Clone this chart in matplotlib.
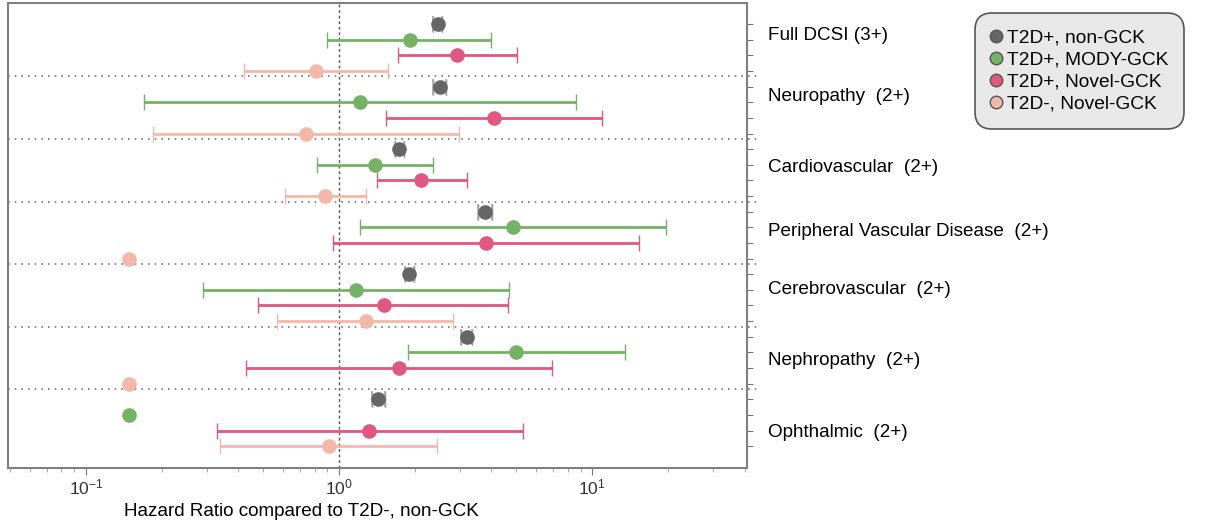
import numpy as np
import matplotlib.pyplot as plt
from matplotlib.lines import Line2D

plt.rcParams['font.family'] = ['Liberation Sans', 'DejaVu Sans']

# outcome groups (top to bottom)
outcomes = ['Full DCSI (3+)', 'Neuropathy  (2+)', 'Cardiovascular  (2+)',
            'Peripheral Vascular Disease  (2+)', 'Cerebrovascular  (2+)',
            'Nephropathy  (2+)', 'Ophthalmic  (2+)']

groups = ['T2D+, non-GCK', 'T2D+, MODY-GCK', 'T2D+, Novel-GCK', 'T2D-, Novel-GCK']
colors = ['#666666', '#74b266', '#e0577f', '#f4b8aa']
cap_colors = ['#ababab', '#74b266', '#e0577f', '#f4b8aa']

# hazard ratio, lower CI, upper CI per group (np.nan = no CI shown)
hr_nongck = [2.46, 2.51, 1.73, 3.78, 1.89, 3.21, 1.43]
lo_nongck = [2.35, 2.35, 1.66, 3.55, 1.82, 3.03, 1.35]
hi_nongck = [2.55, 2.65, 1.81, 4.03, 1.98, 3.36, 1.52]

hr_mody = [1.91, 1.21, 1.39, 4.88, 1.17, 5.0, 0.148]
lo_mody = [0.90, 0.17, 0.82, 1.21, 0.29, 1.87, np.nan]
hi_mody = [3.99, 8.64, 2.35, 19.6, 4.70, 13.5, np.nan]

hr_novel = [2.93, 4.10, 2.11, 3.81, 1.51, 1.73, 1.31]
lo_novel = [1.71, 1.53, 1.41, 0.95, 0.48, 0.43, 0.33]
hi_novel = [5.05, 10.9, 3.20, 15.3, 4.66, 6.95, 5.33]

hr_t2dneg = [0.81, 0.74, 0.88, 0.148, 1.28, 0.148, 0.91]
lo_t2dneg = [0.42, 0.184, 0.61, np.nan, 0.57, np.nan, 0.34]
hi_t2dneg = [1.56, 2.98, 1.28, np.nan, 2.82, np.nan, 2.44]

hrs = [hr_nongck, hr_mody, hr_novel, hr_t2dneg]
los = [lo_nongck, lo_mody, lo_novel, lo_t2dneg]
his = [hi_nongck, hi_mody, hi_novel, hi_t2dneg]

label_rows = [0.70, 4.61, 9.15, 13.24, 16.95, 21.5, 26.1]

fig = plt.figure(figsize=(12.07, 5.23), dpi=100)
ax = fig.add_axes([0.0066, 0.105, 0.6125, 0.889])
ax.set_xscale('log')

nrow = len(groups)
for g in range(nrow):
    hr = np.array(hrs[g])
    lo = np.array(los[g])
    hi = np.array(his[g])
    y = np.arange(len(outcomes)) * nrow + g
    ok = ~np.isnan(lo)
    ax.errorbar(hr[ok], y[ok], xerr=[hr[ok] - lo[ok], hi[ok] - hr[ok]], fmt='none',
                ecolor=colors[g], elinewidth=2, capsize=6, capthick=1, zorder=2)
    # caps in a lighter colour for the grey series
    if g == 0:
        ax.errorbar(hr, y, xerr=[hr - lo, hi - hr], fmt='none', ecolor=cap_colors[g],
                    elinewidth=0, capsize=6, capthick=1.2, zorder=2)
    ax.plot(hr, y, 'o', color=colors[g], markersize=9.5, zorder=3, linestyle='none')

# separators between outcomes
for k in range(1, len(outcomes)):
    ax.axhline(k * nrow - 0.65, xmin=0, xmax=1.015, color='#777777', linestyle=(0, (1, 3)),
               linewidth=1.2, clip_on=False, zorder=1)
ax.axvline(1, color='#555555', linestyle=(0, (2, 2)), linewidth=1, zorder=1)

for lab, r in zip(outcomes, label_rows):
    ax.text(1.028, r, lab, transform=ax.get_yaxis_transform(), fontsize=13.6, va='center', ha='left')

ax.set_xlim(0.0492, 41)
ax.set_ylim(28.4, -1.34)
ax.yaxis.tick_right()
ax.set_yticks(np.arange(len(outcomes) * nrow))
ax.set_yticklabels([])
ax.tick_params(axis='y', length=4, color='#777777', width=0.8)
ax.tick_params(axis='x', which='major', length=5, color='#777777', labelsize=12.5,
               labelcolor='#333333', pad=2)
ax.tick_params(axis='x', which='minor', length=3, color='#999999')
for s in ax.spines.values():
    s.set_color('#808080')
    s.set_linewidth(1.5)

ax.set_xlabel('Hazard Ratio compared to T2D-, non-GCK', fontsize=13.6)
ax.xaxis.set_label_coords(0.397, -0.075)

handles = [Line2D([], [], marker='o', linestyle='none', markersize=9, markerfacecolor=c,
                  markeredgecolor='#555555', markeredgewidth=1) for c in colors]
leg = fig.legend(handles, groups, loc='upper left', bbox_to_anchor=(975 / 1207, 1 - 13 / 523),
                 borderaxespad=0, fontsize=13.8,
                 handlelength=0.5, handletextpad=0.3, labelspacing=0.24, borderpad=0.85,
                 fancybox=True, facecolor='#e8e8e8', edgecolor='#555555', framealpha=1)
leg.get_frame().set_boxstyle('round,pad=0,rounding_size=0.9')
leg.get_frame().set_linewidth(1.2)

fig.savefig('out.png', dpi=100)
